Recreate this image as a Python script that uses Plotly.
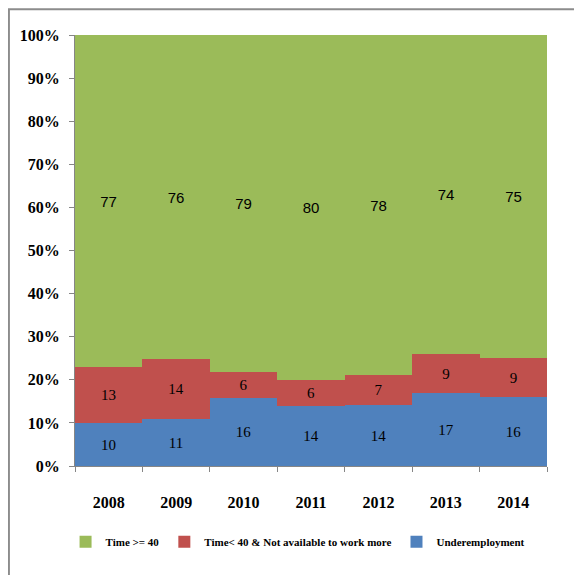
import plotly.graph_objects as go

years = ['2008', '2009', '2010', '2011', '2012', '2013', '2014']
underemployment = [10, 11, 16, 14, 14, 17, 16]
not_available = [13, 14, 6, 6, 7, 9, 9]
full_time = [77, 76, 79, 80, 78, 74, 75]

COLORS = {
    'Underemployment': '#4F81BD',
    'Time< 40 & Not available to work more': '#C0504D',
    'Time >= 40': '#9BBB59',
}

SERIF = 'Liberation Serif, Times New Roman, serif'
SANS = 'Liberation Sans, Arial, sans-serif'

series = [
    ('Underemployment', underemployment, SERIF),
    ('Time< 40 & Not available to work more', not_available, SERIF),
    ('Time >= 40', full_time, SANS),
]

fig = go.Figure()
for name, vals, fam in series:
    fig.add_trace(go.Bar(
        x=years, y=vals, name=name,
        marker=dict(color=COLORS[name], line=dict(width=0)),
        text=[str(v) for v in vals],
        textposition='inside', insidetextanchor='middle', textangle=0,
        textfont=dict(family=fam, size=15, color='black'),
        constraintext='none',
    ))

# the page body adds an 8px offset, margins account for it
fig.update_layout(
    barmode='stack', barnorm='percent', bargap=0,
    width=582, height=575,
    margin=dict(l=67, r=43, t=27, b=117, autoexpand=False),
    plot_bgcolor='white', paper_bgcolor='white',
    showlegend=True,
    legend=dict(
        orientation='h', traceorder='reversed',
        x=-0.02, xanchor='left', y=-0.176, yanchor='middle',
        font=dict(family=SERIF, size=11, color='black', weight='bold'),
        itemwidth=30, tracegroupgap=0,
    ),
)

fig.update_yaxes(
    range=[0, 100], dtick=10, ticksuffix='%',
    showgrid=False, zeroline=False, automargin=False,
    showline=True, linecolor='#868686', linewidth=1,
    ticks='outside', ticklen=5, tickcolor='#868686',
    tickfont=dict(family=SERIF, size=16, color='black', weight='bold'),
    ticklabelstandoff=6,
)
fig.update_xaxes(
    showgrid=False, automargin=False,
    showline=True, linecolor='#868686', linewidth=1,
    ticks='outside', ticklen=5, tickcolor='#868686', tickson='boundaries',
    tickfont=dict(family=SERIF, size=16, color='black', weight='bold'),
    ticklabelstandoff=22,
)

# grey chart frame, cut off at the right and bottom as in the source image
fig.add_shape(
    type='rect', xref='paper', yref='paper',
    x0=-0.14, x1=1.2, y0=-0.4, y1=1.06,
    line=dict(color='#8C8C8C', width=2), fillcolor='rgba(0,0,0,0)',
    layer='above',
)

fig.write_html('out.html')
